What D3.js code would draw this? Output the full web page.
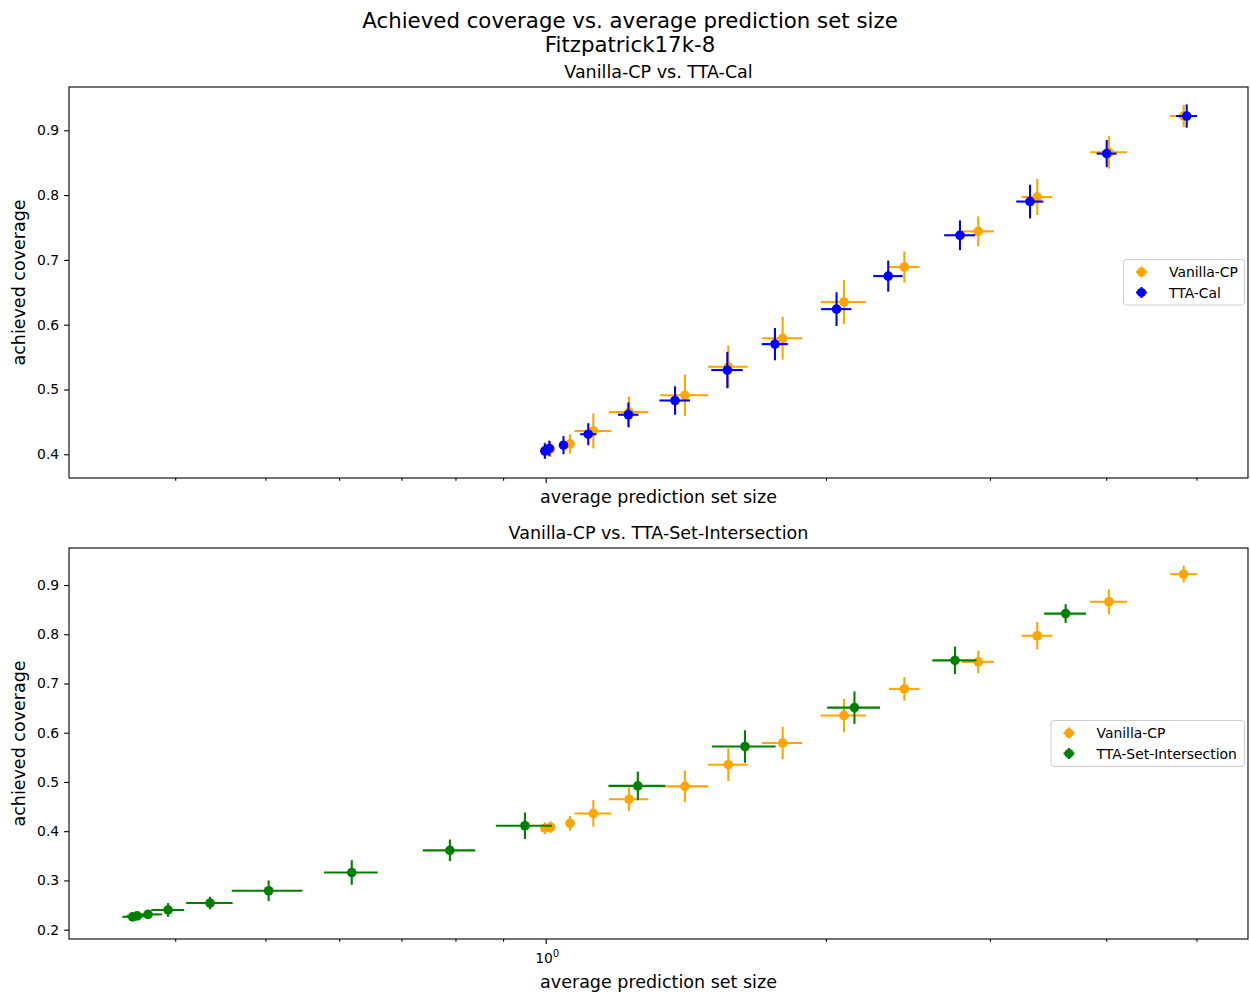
<!DOCTYPE html>
<html>
<head>
<meta charset="utf-8">
<script src="https://cdn.jsdelivr.net/npm/d3@7"></script>
<style>
  html, body { margin: 0; padding: 0; background: #fff; }
  svg { display: block; font-family: "DejaVu Sans", sans-serif; }
</style>
</head>
<body>
<svg id="chart" width="1250" height="993"></svg>
<script>
// ---- data: average set size (x) and coverage (y), each with its spread ----
const vanillaX    = [0.998, 1.012, 1.062, 1.125, 1.229, 1.411, 1.571, 1.797, 2.091, 2.428, 2.915, 3.373, 4.027, 4.845];
const vanillaXErr = [0.008, 0.008, 0.010, 0.051, 0.060, 0.084, 0.077, 0.089, 0.117, 0.092, 0.115, 0.128, 0.183, 0.160];
const vanillaY    = [0.406, 0.408, 0.416, 0.436, 0.465, 0.491, 0.535, 0.579, 0.635, 0.689, 0.744, 0.797, 0.866, 0.922];
const vanillaYErr = [0.012, 0.012, 0.015, 0.027, 0.024, 0.032, 0.033, 0.033, 0.034, 0.024, 0.023, 0.028, 0.025, 0.017];

const ttaCalX    = [0.998, 1.009, 1.045, 1.111, 1.227, 1.377, 1.567, 1.763, 2.053, 2.333, 2.786, 3.313, 4.005, 4.881];
const ttaCalXErr = [0.006, 0.006, 0.008, 0.022, 0.031, 0.052, 0.061, 0.057, 0.077, 0.085, 0.107, 0.111, 0.099, 0.127];
const ttaCalY    = [0.405, 0.409, 0.414, 0.431, 0.461, 0.483, 0.530, 0.570, 0.624, 0.675, 0.738, 0.790, 0.864, 0.922];
const ttaCalYErr = [0.012, 0.012, 0.014, 0.017, 0.019, 0.022, 0.028, 0.025, 0.026, 0.024, 0.023, 0.026, 0.021, 0.018];

const setIntX    = [0.360, 0.364, 0.374, 0.393, 0.436, 0.504, 0.619, 0.789, 0.950, 1.256, 1.637, 2.146, 2.752, 3.618];
const setIntXErr = [0.009, 0.009, 0.013, 0.016, 0.025, 0.044, 0.041, 0.051, 0.066, 0.088, 0.129, 0.140, 0.150, 0.187];
const setIntY    = [0.226, 0.228, 0.231, 0.240, 0.254, 0.279, 0.316, 0.361, 0.411, 0.492, 0.572, 0.651, 0.747, 0.842];
const setIntYErr = [0.004, 0.004, 0.005, 0.014, 0.013, 0.021, 0.025, 0.022, 0.027, 0.029, 0.033, 0.033, 0.028, 0.019];

// ---- axis ticks and labels ----
const xMajorTicks = [1];
const xMinorTicks = [0.4, 0.5, 0.6, 0.7, 0.8, 0.9, 2, 3, 4, 5];
const xDomain = [0.3076, 5.68];
const yTicksTop = [0.4, 0.5, 0.6, 0.7, 0.8, 0.9];
const yDomainTop = [0.3634, 0.9668];
const yTicksBottom = [0.2, 0.3, 0.4, 0.5, 0.6, 0.7, 0.8, 0.9];
const yDomainBottom = [0.181, 0.9752];

const titleLines = ["Achieved coverage vs. average prediction set size", "Fitzpatrick17k-8"];
const xLabel = "average prediction set size";
const yLabel = "achieved coverage";

const seriesVanilla = { name: "Vanilla-CP", color: "orange", x: vanillaX, xe: vanillaXErr, y: vanillaY, ye: vanillaYErr };
const seriesCal     = { name: "TTA-Cal", color: "blue", x: ttaCalX, xe: ttaCalXErr, y: ttaCalY, ye: ttaCalYErr };
const seriesSetInt  = { name: "TTA-Set-Intersection", color: "green", x: setIntX, xe: setIntXErr, y: setIntY, ye: setIntYErr };

const panels = [
  { title: "Vanilla-CP vs. TTA-Cal", top: 87, bottom: 478, yDomain: yDomainTop, yTicks: yTicksTop,
    series: [seriesVanilla, seriesCal], showXTickLabels: false,
    legend: { x: 1123.5, y: 259.5, w: 121, h: 45.5 } },
  { title: "Vanilla-CP vs. TTA-Set-Intersection", top: 548, bottom: 939, yDomain: yDomainBottom, yTicks: yTicksBottom,
    series: [seriesVanilla, seriesSetInt], showXTickLabels: true,
    legend: { x: 1051, y: 720.5, w: 193.5, h: 46 } }
];

const left = 69, right = 1248;
const labelSize = "17.5px";
const svg = d3.select("#chart");

// figure title
const sup = svg.append("text").attr("x", 630).attr("text-anchor", "middle")
  .attr("font-size", "21.3px").attr("fill", "#000");
titleLines.forEach((t, i) => {
  sup.append("tspan").attr("x", 630).attr("y", 27.5 + i * 24.5).text(t);
});

const x = d3.scaleLog().domain(xDomain).range([left, right]);

panels.forEach(p => {
  const y = d3.scaleLinear().domain(p.yDomain).range([p.bottom, p.top]);
  const g = svg.append("g");

  // minor x ticks
  const minorAxis = d3.axisBottom(x).tickValues(xMinorTicks).tickSize(2.8).tickFormat(() => "");
  const gMinor = g.append("g").attr("transform", `translate(0,${p.bottom})`).call(minorAxis);
  gMinor.select(".domain").remove();

  // major x ticks
  const majorAxis = d3.axisBottom(x).tickValues(xMajorTicks).tickSize(4.9).tickPadding(4.9)
    .tickFormat(() => "");
  const gMajor = g.append("g").attr("transform", `translate(0,${p.bottom})`).call(majorAxis);
  gMajor.select(".domain").remove();
  if (p.showXTickLabels) {
    gMajor.selectAll(".tick text").each(function(d) {
      const t = d3.select(this).text(null).attr("font-size", "13.9px").attr("fill", "#000")
        .attr("font-family", "DejaVu Sans, sans-serif").attr("dy", null).attr("y", 24.3)
        .attr("text-anchor", "middle").attr("x", 1);
      t.append("tspan").text("10");
      t.append("tspan").attr("font-size", "9.7px").attr("dy", -6).text(String(Math.round(Math.log10(d))));
    });
  }

  // y ticks
  const yAxis = d3.axisLeft(y).tickValues(p.yTicks).tickSize(4.9).tickPadding(4.9).tickFormat(d3.format(".1f"));
  const gY = g.append("g").attr("transform", `translate(${left},0)`).call(yAxis);
  gY.select(".domain").remove();
  gY.selectAll(".tick text").attr("font-size", "13.9px").attr("font-family", "DejaVu Sans, sans-serif").attr("fill", "#000");

  g.selectAll(".tick line").attr("stroke", "#000").attr("stroke-width", 1.1);

  // data: error bars and markers
  p.series.forEach(s => {
    const sg = g.append("g");
    const idx = d3.range(s.x.length);
    idx.forEach(i => {
      sg.append("line")
        .attr("x1", x(s.x[i] - s.xe[i])).attr("x2", x(s.x[i] + s.xe[i]))
        .attr("y1", y(s.y[i])).attr("y2", y(s.y[i]))
        .attr("stroke", s.color).attr("stroke-width", 2.1);
      sg.append("line")
        .attr("x1", x(s.x[i])).attr("x2", x(s.x[i]))
        .attr("y1", y(s.y[i] - s.ye[i])).attr("y2", y(s.y[i] + s.ye[i]))
        .attr("stroke", s.color).attr("stroke-width", 2.1);
      sg.append("circle")
        .attr("cx", x(s.x[i])).attr("cy", y(s.y[i])).attr("r", 4.8)
        .attr("fill", s.color);
    });
  });

  // frame
  g.append("rect").attr("x", left).attr("y", p.top).attr("width", right - left).attr("height", p.bottom - p.top)
    .attr("fill", "none").attr("stroke", "#000").attr("stroke-width", 1.1);

  // titles and labels
  g.append("text").attr("x", (left + right) / 2).attr("y", p.top - 9).attr("text-anchor", "middle")
    .attr("font-size", labelSize).attr("fill", "#000").text(p.title);
  g.append("text").attr("x", (left + right) / 2).attr("y", p.bottom + (p.showXTickLabels ? 48.5 : 25))
    .attr("text-anchor", "middle").attr("font-size", labelSize).attr("fill", "#000").text(xLabel);
  g.append("text").attr("transform", `translate(24.5,${(p.top + p.bottom) / 2}) rotate(-90)`)
    .attr("text-anchor", "middle").attr("font-size", labelSize).attr("fill", "#000").text(yLabel);

  // legend
  const L = p.legend;
  const lg = g.append("g");
  lg.append("rect").attr("x", L.x).attr("y", L.y).attr("width", L.w).attr("height", L.h)
    .attr("rx", 3).attr("fill", "#fff").attr("fill-opacity", 0.8)
    .attr("stroke", "#cccccc").attr("stroke-width", 1);
  p.series.forEach((s, i) => {
    const cy = L.y + 12.5 + i * 20.5;
    const cx = L.x + 18;
    lg.append("line").attr("x1", cx - 5.5).attr("x2", cx + 5.5).attr("y1", cy).attr("y2", cy)
      .attr("stroke", s.color).attr("stroke-width", 2.1);
    lg.append("line").attr("x1", cx).attr("x2", cx).attr("y1", cy - 5.5).attr("y2", cy + 5.5)
      .attr("stroke", s.color).attr("stroke-width", 2.1);
    lg.append("circle").attr("cx", cx).attr("cy", cy).attr("r", 4.6).attr("fill", s.color);
    lg.append("text").attr("x", L.x + 45.5).attr("y", cy + 5).attr("font-size", "13.9px")
      .attr("fill", "#000").text(s.name);
  });
});
</script>
</body>
</html>
